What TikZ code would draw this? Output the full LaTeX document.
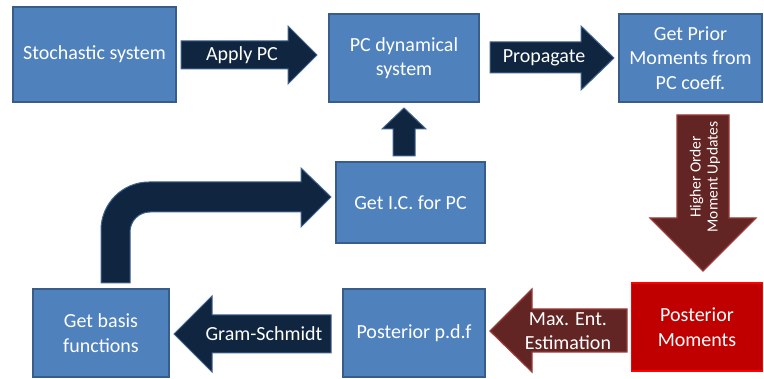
\documentclass[tikz,border=0pt]{standalone}
\usepackage{fontspec}
\setmainfont{Carlito}
\definecolor{boxblue}{HTML}{4F81BD}
\definecolor{boxline}{HTML}{385D8A}
\definecolor{navy}{HTML}{10253F}
\definecolor{navyline}{HTML}{3F6391}
\definecolor{brownfill}{HTML}{632523}
\definecolor{brownline}{HTML}{9A3B38}
\definecolor{redfill}{HTML}{C00000}
\definecolor{redline}{HTML}{FF0000}
\begin{document}
\begin{tikzpicture}[x=1pt,y=-1pt,
  box/.style={draw=boxline, fill=boxblue, line width=1.5pt, text=white, align=center,
    inner sep=0pt, font=\fontsize{20}{24.5}\selectfont},
  redbox/.style={box, draw=redline, fill=redfill},
  navyarrow/.style={fill=navy, draw=navyline, line width=1pt},
  brownarrow/.style={fill=brownfill, draw=brownline, line width=1.2pt},
  lbl/.style={text=white, align=center, inner sep=0pt, font=\fontsize{20}{24}\selectfont},
  smalllbl/.style={lbl, font=\fontsize{15.5}{17}\selectfont}]
\useasboundingbox (0,0) rectangle (764,379);

% boxes
\node[box, minimum width=163pt, minimum height=95pt] (stoch) at (94.5,54.5) {Stochastic system};
\node[box, minimum width=150pt, minimum height=88pt] (pcdyn) at (404,58) {PC dynamical\\system};
\node[box, minimum width=143pt, minimum height=88pt] (prior) at (690.5,58) {Get Prior\\Moments from\\PC coeff.};
\node[box, minimum width=149pt, minimum height=81pt] (ic) at (410.5,202.5) {Get I.C. for PC};
\node[redbox, minimum width=131pt, minimum height=88pt] (postm) at (697,327) {Posterior\\Moments};
\node[box, minimum width=142pt, minimum height=88pt] (pdf) at (414,333) {Posterior p.d.f};
\node[box, minimum width=136pt, minimum height=88pt] (basis) at (101,333) {Get basis\\functions};

% block arrows
\draw[navyarrow] (181,41) -- (288,41) -- (288,26) -- (317,55) -- (288,84) -- (288,69) -- (181,69) -- cycle;
\node[lbl] (applyl) at (242,55) {Apply PC};

\draw[navyarrow] (490,42) -- (581,42) -- (581,26) -- (614,58) -- (581,90) -- (581,73) -- (490,73) -- cycle;
\node[lbl] (propl) at (544,58) {Propagate};

\draw[navyarrow] (393,156) -- (393,129) -- (382,129) -- (404,108) -- (426,129) -- (415,129) -- (415,156) -- cycle;

\draw[brownarrow] (677,115) -- (729,115) -- (729,218) -- (756,218) -- (703,271) -- (650,218) -- (677,218) -- cycle;
\node[smalllbl, rotate=90] (hol) at (705,177) {Higher Order\\Moment Updates};

\draw[brownarrow] (627,309) -- (532,309) -- (532,289) -- (490,331) -- (532,372) -- (532,352) -- (627,352) -- cycle;
\node[lbl] (mel) at (568,331) {Max. Ent.\\Estimation};

\draw[navyarrow] (331,315) -- (212,315) -- (212,296) -- (174,334) -- (212,372) -- (212,353) -- (331,353) -- cycle;
\node[lbl] (gsl) at (264,334) {Gram-Schmidt};

\draw[navyarrow] (101,283) [rounded corners=48pt] -- (101,182) -- (200,182) [sharp corners]
  -- (301,182) -- (301,168) -- (331,197) -- (301,227) -- (301,212) -- (200,212)
  [rounded corners=20pt] -- (130,212) -- (130,250) [sharp corners] -- (130,283) -- cycle;
\end{tikzpicture}
\end{document}
